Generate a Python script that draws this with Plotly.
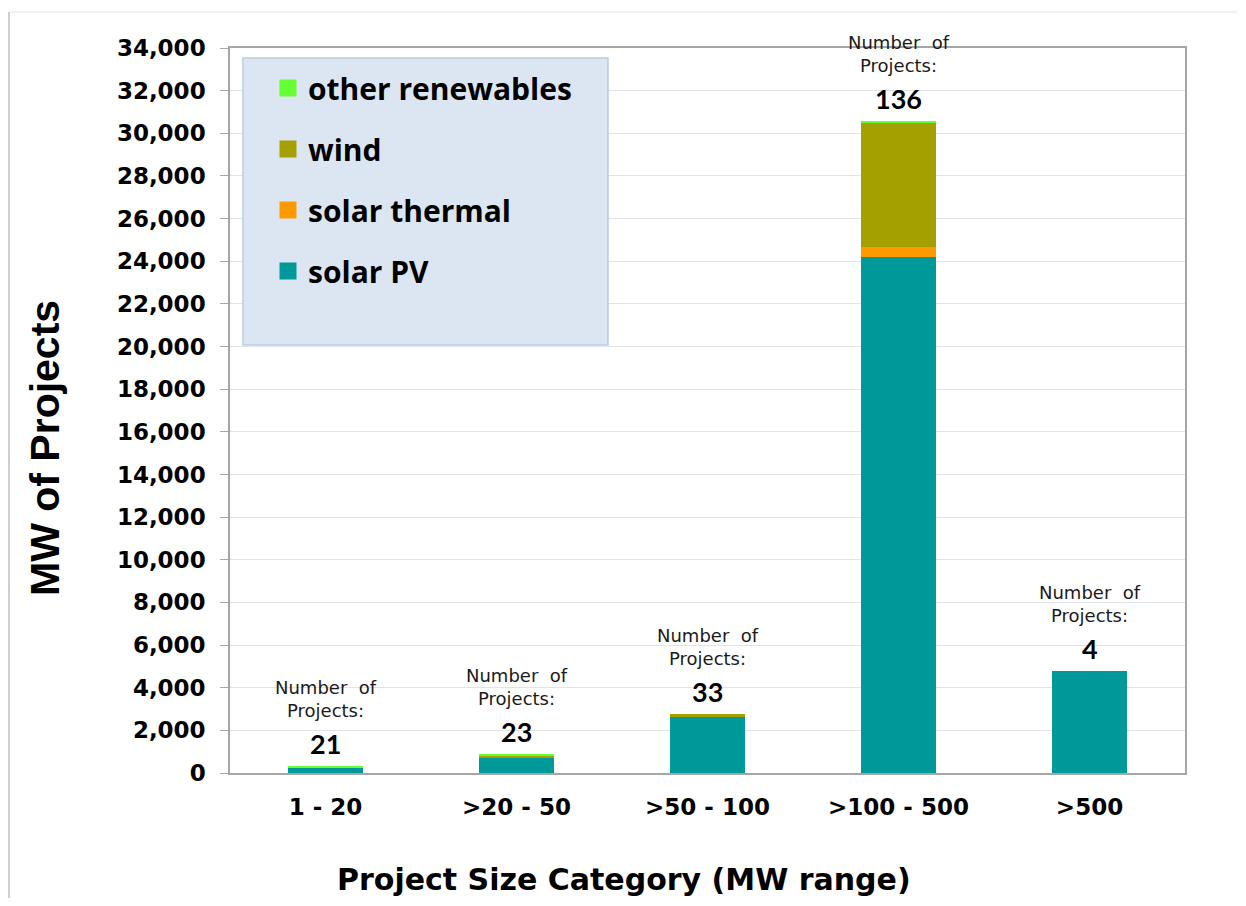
import plotly.graph_objects as go

categories = ["1 - 20", ">20 - 50", ">50 - 100", ">100 - 500", ">500"]
solar_pv = [280, 750, 2630, 24200, 4800]
solar_thermal = [0, 0, 0, 470, 0]
wind = [0, 70, 140, 5820, 0]
other_renewables = [50, 60, 0, 100, 0]
project_counts = [21, 23, 33, 136, 4]

series = [
    ("solar PV", solar_pv, "#009999", 4),
    ("solar thermal", solar_thermal, "#ff9900", 3),
    ("wind", wind, "#a3a000", 2),
    ("other renewables", other_renewables, "#66ff33", 1),
]

fig = go.Figure()
for name, vals, col, rank in series:
    fig.add_trace(go.Bar(
        x=categories, y=vals, name=name, marker=dict(color=col, line=dict(width=0)),
        width=0.39, showlegend=False, legendgroup=name,
    ))
# legend entries (larger swatches)
for name, vals, col, rank in series:
    fig.add_trace(go.Bar(
        x=[None], y=[None], name=name, legendgroup=name, legendrank=rank,
        marker=dict(color=col, line=dict(color=col, width=5)), showlegend=True,
    ))

totals = [sum(v) for v in zip(solar_pv, solar_thermal, wind, other_renewables)]

annotations = []
for cat, tot, n in zip(categories, totals, project_counts):
    annotations.append(dict(
        x=cat, y=tot, xref="x", yref="y", text=f"<b>{n}</b>", showarrow=False,
        yanchor="bottom", yshift=4, font=dict(family="Lato", size=27, color="#000000"),
    ))
    annotations.append(dict(
        x=cat, y=tot, xref="x", yref="y", text="Number  of<br>Projects:", showarrow=False,
        yanchor="bottom", yshift=43, font=dict(family="DejaVu Sans", size=18, color="#1a1a1a"),
    ))
annotations.append(dict(
    x=0.4126, y=(773 - 879) / 725, xref="paper", yref="paper",
    text="<b>Project Size Category (MW range)</b>",
    showarrow=False, xanchor="center", yanchor="middle",
    font=dict(family="DejaVu Sans", size=30, color="#000000"),
))
annotations.append(dict(
    x=(45 - 230) / 955, y=(773 - 448) / 725, xref="paper", yref="paper",
    text="<b>MW of Projects</b>", textangle=-90,
    showarrow=False, xanchor="center", yanchor="middle",
    font=dict(family="Liberation Sans", size=41, color="#000000"),
))

shapes = [
    dict(type="rect", xref="paper", yref="paper", x0=0.0136, x1=0.3958, y0=0.5903, y1=0.9862,
         fillcolor="#dce6f2", line=dict(color="#b9cde5", width=1.5), layer="above"),
    dict(type="line", xref="paper", yref="paper", x0=(9 - 230) / 955, x1=(9 - 230) / 955,
         y0=(773 - 906) / 725, y1=(773 - 12) / 725, line=dict(color="#bfbfbf", width=1.5)),
    dict(type="line", xref="paper", yref="paper", x0=(9 - 230) / 955, x1=(1246 - 230) / 955,
         y0=(773 - 12) / 725, y1=(773 - 12) / 725, line=dict(color="#e3e3e3", width=1)),
]

fig.update_layout(
    width=1230, height=890,
    margin=dict(l=222, r=53, t=40, b=125, autoexpand=False),
    barmode="stack",
    plot_bgcolor="#ffffff", paper_bgcolor="#ffffff",
    annotations=annotations, shapes=shapes,
    legend=dict(
        x=(268 - 230) / 955, y=(773 - 62) / 725, xanchor="left", yanchor="top",
        bgcolor="rgba(0,0,0,0)", borderwidth=0,
        font=dict(family="Open Sans", size=30, color="#000000", weight="bold"),
        traceorder="grouped", tracegroupgap=19,
    ),
    xaxis=dict(
        showline=True, linecolor="#a6a6a6", linewidth=1.5, mirror=True,
        ticks="", showgrid=False,
        tickfont=dict(family="DejaVu Sans", size=23, color="#000000", weight="bold"),
        ticklabelstandoff=13,
    ),
    yaxis=dict(
        range=[0, 34000], dtick=2000, tickformat=",",
        showline=True, linecolor="#a6a6a6", linewidth=1.5, mirror=True,
        ticks="outside", ticklen=8, tickcolor="#a6a6a6",
        gridcolor="#dfe4ec", gridwidth=1,
        tickfont=dict(family="DejaVu Sans", size=23, color="#000000", weight="bold"),
        ticklabelstandoff=10,
    ),
)

fig.write_html("out.html")
